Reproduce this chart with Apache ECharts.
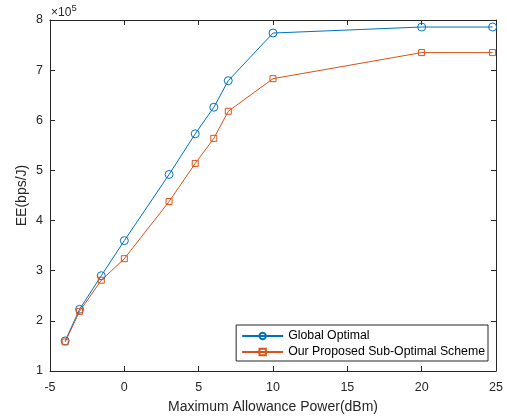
<!DOCTYPE html>
<html>
<head>
<meta charset="utf-8">
<script src="https://cdn.jsdelivr.net/npm/echarts@6/dist/echarts.min.js"></script>
<style>html,body{margin:0;padding:0;background:#fff;}#c{width:507px;height:419px;}</style>
</head>
<body>
<div id="c"></div>
<script>
var powerDbm = [-3.98, -3.01, -1.55, 0, 3.01, 4.77, 6.02, 6.99, 10, 20, 24.77];
var globalOptimal = [1.60, 2.23, 2.90, 3.60, 4.92, 5.73, 6.26, 6.79, 7.74, 7.86, 7.86];
var proposedScheme = [1.58, 2.19, 2.81, 3.24, 4.38, 5.14, 5.64, 6.18, 6.83, 7.35, 7.35];
var xTicks = [-5, 0, 5, 10, 15, 20, 25];
var yTicks = [1, 2, 3, 4, 5, 6, 7, 8];
var seriesNames = ['Global Optimal', 'Our Proposed Sub-Optimal Scheme'];

var font = 'Liberation Sans, Arial, Helvetica, sans-serif';
var axisCol = '#262626';
var blue = '#0072BD', orange = '#D95319';
function pairs(xs, ys){ return xs.map(function(x,i){return [x, ys[i]];}); }

var baseAxis = {
  axisLine: {show: true, onZero: false, lineStyle: {color: axisCol, width: 1}},
  axisTick: {show: true, inside: true, length: 5, lineStyle: {color: axisCol}},
  splitLine: {show: false}
};
function ax(extra){ return Object.assign({}, JSON.parse(JSON.stringify(baseAxis)), extra); }

var chart = echarts.init(document.getElementById('c'));
chart.setOption({
  animation: false,
  backgroundColor: '#fff',
  textStyle: {fontFamily: font},
  grid: {left: 50, right: 11, top: 20, bottom: 47},
  xAxis: [
    ax({type: 'value', position: 'bottom', min: xTicks[0], max: xTicks[xTicks.length-1], interval: 5,
      axisLabel: {color: axisCol, fontSize: 12.5, fontFamily: font, margin: 10},
      name: 'Maximum Allowance Power(dBm)', nameLocation: 'middle', nameGap: 29, nameMoveOverlap: false,
      nameTextStyle: {color: axisCol, fontSize: 14, fontFamily: font}}),
    ax({type: 'value', position: 'top', min: xTicks[0], max: xTicks[xTicks.length-1], interval: 5,
      axisLabel: {show: false}})
  ],
  yAxis: [
    ax({type: 'value', position: 'left', min: yTicks[0], max: yTicks[yTicks.length-1], interval: 1,
      axisLabel: {color: axisCol, fontSize: 12.5, fontFamily: font, margin: 7},
      name: 'EE(bps/J)', nameLocation: 'middle', nameGap: 21, nameMoveOverlap: false,
      nameTextStyle: {color: axisCol, fontSize: 14, fontFamily: font}}),
    ax({type: 'value', position: 'right', min: yTicks[0], max: yTicks[yTicks.length-1], interval: 1,
      axisLabel: {show: false}})
  ],
  legend: {
    orient: 'vertical', right: 19, bottom: 58,
    backgroundColor: '#fff', borderColor: axisCol, borderWidth: 1, borderRadius: 0,
    padding: [5, 3, 3, 5], itemGap: 4, itemWidth: 41, itemHeight: 8,
    textStyle: {color: '#000', fontSize: 12.3, fontFamily: font, padding: [0,0,0,0]},
    data: seriesNames
  },
  graphic: [
    {type: 'text', left: 51, top: 7,
      style: {text: '×10', fill: axisCol, fontSize: 12, fontFamily: font}},
    {type: 'text', left: 71.5, top: 3,
      style: {text: '5', fill: axisCol, fontSize: 9.5, fontFamily: font}}
  ],
  series: [
    {name: seriesNames[0], type: 'line', data: pairs(powerDbm, globalOptimal),
      symbol: 'circle', symbolSize: 8,
      lineStyle: {width: 1, color: blue},
      itemStyle: {color: 'rgba(255,255,255,0)', borderColor: blue, borderWidth: 1}},
    {name: seriesNames[1], type: 'line', data: pairs(powerDbm, proposedScheme),
      symbol: 'rect', symbolSize: 6,
      lineStyle: {width: 1, color: orange},
      itemStyle: {color: 'rgba(255,255,255,0)', borderColor: orange, borderWidth: 1}}
  ]
});
</script>
</body>
</html>
